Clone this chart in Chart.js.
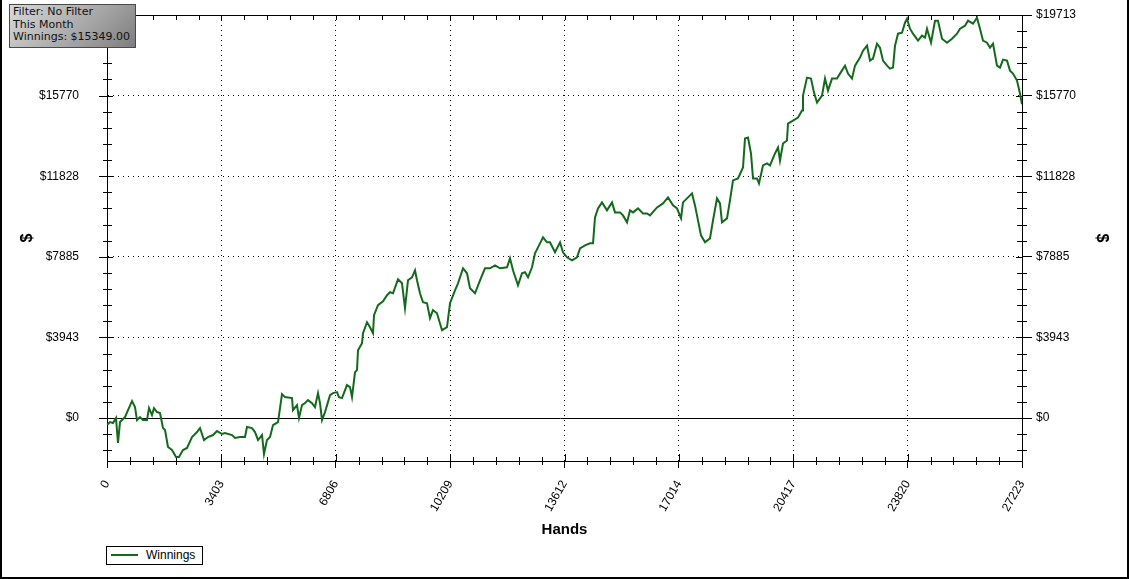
<!DOCTYPE html>
<html>
<head>
<meta charset="utf-8">
<script src="https://cdn.jsdelivr.net/npm/chart.js@4.4.1/dist/chart.umd.min.js"></script>
<style>
  body { margin: 0; background: #fff; }
  #wrap { position: relative; width: 1129px; height: 579px; overflow: hidden; background: #fff; }
  #chart { position: absolute; left: 0; top: 0; }
  #frame { position: absolute; left: 0; top: -2px; width: 1125px; height: 577px; border: 2px solid #000; pointer-events: none; }
  #filter {
    position: absolute; left: 9px; top: 4px; width: 122px; height: 41px;
    border: 1px solid #4a4a4a;
    background: linear-gradient(135deg, #d8d8d8 0%, #a9a9a9 55%, #7e7e7e 100%);
    font: 11px "DejaVu Sans", sans-serif; line-height: 12.6px; color: #111;
    padding: 1px 0 0 3px; box-sizing: content-box; white-space: nowrap;
  }
  #legend {
    position: absolute; left: 106px; top: 546px; width: 95px; height: 17px;
    border: 1px solid #000; background: #fff;
    font: 12px "Liberation Sans", Arial, sans-serif; color: #000;
  }
  #legend .swatch { position: absolute; left: 4px; top: 7px; width: 27px; height: 2px; background: #146a1c; }
  #legend .lbl { position: absolute; left: 39px; top: 1px; }
</style>
</head>
<body>
<div id="wrap">
  <canvas id="chart" width="1129" height="579"></canvas>
  <div id="filter">Filter: No Filter<br>This Month<br>Winnings: $15349.00</div>
  <div id="legend"><div class="swatch"></div><div class="lbl">Winnings</div></div>
  <div id="frame"></div>
</div>
<script>
// hand number and running winnings ($)
const hands = [0, 89, 179, 268, 327, 387, 536, 625, 744, 833, 893, 982, 1071, 1190, 1250, 1339, 1398, 1488, 1577, 1666,
  1726, 1815, 1934, 2053, 2142, 2261, 2380, 2529, 2678, 2767, 2886, 3005, 3154, 3273, 3421, 3511, 3719, 3808, 3957, 4106,
  4165, 4314, 4403, 4493, 4612, 4671, 4760, 4850, 4939, 5088, 5207, 5296, 5504, 5534, 5653, 5712, 5802, 5891, 5980, 6099,
  6188, 6278, 6337, 6397, 6486, 6635, 6724, 6843, 6902, 6992, 7140, 7230, 7289, 7379, 7438, 7468, 7587, 7617, 7736, 7825,
  7914, 7944, 8063, 8212, 8331, 8420, 8509, 8658, 8777, 8866, 8955, 9074, 9164, 9223, 9312, 9402, 9521, 9610, 9699, 9818,
  9967, 10116, 10205, 10354, 10443, 10592, 10711, 10800, 10949, 11098, 11246, 11395, 11544, 11693, 11901, 11990, 12079, 12228, 12347, 12436,
  12526, 12645, 12734, 12883, 12972, 13091, 13180, 13329, 13478, 13567, 13686, 13835, 13983, 14073, 14222, 14370, 14460, 14519, 14608, 14727,
  14876, 15025, 15114, 15263, 15352, 15471, 15560, 15650, 15798, 15947, 16066, 16155, 16364, 16542, 16691, 16840, 16959, 17078, 17137, 17256,
  17405, 17494, 17583, 17673, 17792, 17940, 18030, 18149, 18238, 18297, 18446, 18535, 18625, 18774, 18922, 18982, 19071, 19160, 19220, 19339,
  19398, 19517, 19636, 19726, 19874, 19964, 20023, 20112, 20231, 20261, 20410, 20559, 20678, 20707, 20826, 20945, 21035, 21124, 21273, 21362,
  21451, 21570, 21719, 21808, 21957, 22046, 22165, 22255, 22403, 22493, 22612, 22701, 22790, 22909, 22998, 23088, 23207, 23296, 23385, 23445,
  23534, 23653, 23742, 23802, 23891, 23980, 24129, 24248, 24337, 24397, 24516, 24635, 24724, 24843, 24992, 25140, 25289, 25379, 25527, 25616,
  25765, 25884, 25973, 26063, 26182, 26271, 26360, 26479, 26568, 26658, 26777, 26866, 26955, 27074, 27163, 27223];
const winnings = [-340, -195, -244, 0, -1221, -195, 49, 391, 830, 537, -98, 49, -98, -98, 488, 146, 488, 293, 244, -488,
  -586, -1416, -1563, -1904, -1904, -1563, -1465, -928, -684, -488, -1074, -928, -830, -635, -781, -732, -830, -977, -928, -928,
  -439, -488, -684, -1074, -830, -1758, -1074, -928, -342, -195, 1172, 1025, 977, 391, 635, 0, 635, 732, 879, 732,
  537, 1221, 732, -98, 293, 1123, 1221, 1270, 1025, 977, 1611, 1514, 1025, 2246, 2344, 3320, 3662, 4151, 4688, 4444,
  4151, 5029, 5518, 5713, 6006, 6153, 6104, 6787, 6592, 5371, 6739, 6885, 7227, 6739, 6104, 5664, 5615, 4883, 5274, 5127,
  4297, 4444, 5615, 6250, 6592, 7325, 7080, 6348, 6104, 6739, 7325, 7325, 7471, 7325, 7373, 7813, 7227, 6494, 7080, 7129,
  6885, 7373, 8057, 8545, 8838, 8594, 8594, 8106, 8594, 8106, 7862, 7715, 7862, 8301, 8448, 8545, 8545, 9815, 10254, 10547,
  10157, 10547, 10059, 10059, 9912, 9571, 10157, 10059, 10254, 10010, 10010, 9912, 10303, 10498, 10791, 10401, 10254, 9766, 10547, 10743,
  10987, 10401, 9668, 8936, 8594, 8789, 9668, 10743, 10498, 9571, 9766, 10645, 11622, 11719, 12256, 13672, 13721, 12940, 11719, 11719,
  11475, 12354, 12452, 12354, 12940, 13233, 12598, 13428, 13575, 14405, 14551, 14698, 15040, 15772, 16651, 16602, 15918, 15430, 15772, 16602,
  16016, 16602, 16602, 16846, 17237, 16846, 16602, 17237, 17628, 17969, 18214, 17481, 17579, 18311, 18116, 17481, 17237, 17091, 17139, 18214,
  18800, 18848, 19337, 19532, 19044, 18800, 18457, 18702, 18604, 19044, 18360, 19434, 19434, 18555, 18360, 18555, 18800, 19044, 19190, 19434,
  19288, 19581, 19044, 18457, 18360, 18116, 18311, 17237, 17139, 17530, 17481, 16993, 16846, 16505, 15870, 15349];

const xTicks = [0, 3402.875, 6805.75, 10208.625, 13611.5, 17014.375, 20417.25, 23820.125, 27223];
const yTicks = [0, 3942.6, 7885.2, 11827.8, 15770.4, 19713];
const xMin = 0, xMax = 27223, yMin = -2100, yMax = 19713;

const lineGreen = '#146a1c';
const tickFont = { family: '"Liberation Sans", Arial, sans-serif', size: 12 };
const titleFont = { family: '"Liberation Sans", Arial, sans-serif', size: 16, weight: 'bold' };

const points = hands.map((h, i) => ({ x: h, y: winnings[i] }));

// minor ticks, inner halves of major ticks, top border and the solid $0 line
const axisExtras = {
  id: 'axisExtras',
  beforeDatasetsDraw(chart) {
    const { ctx, chartArea: a, scales: { x, y } } = chart;
    const px = v => Math.round(v) + 0.5;
    ctx.save();
    ctx.strokeStyle = '#000';
    ctx.lineWidth = 1;
    ctx.setLineDash([]);
    ctx.beginPath();
    const y0 = px(y.getPixelForValue(0));
    ctx.moveTo(a.left - 8, y0); ctx.lineTo(a.right, y0);
    const top = px(a.top);
    ctx.moveTo(a.left, top); ctx.lineTo(a.right + 1, top);
    // x minor ticks
    const xStep = (xTicks[1] - xTicks[0]) / 5;
    for (let i = 0; i <= 40; i++) {
      const p = px(x.getPixelForValue(i * xStep));
      const major = i % 5 === 0;
      ctx.moveTo(p, a.bottom - (major ? 7 : 4)); ctx.lineTo(p, a.bottom + (major ? 0 : 4));
      ctx.moveTo(p, a.top); ctx.lineTo(p, a.top + 5);
    }
    // y minor ticks on both sides, plus the left outer major ticks
    const yStep = (yTicks[1] - yTicks[0]) / 5;
    for (let i = -2; i <= 25; i++) {
      const p = px(y.getPixelForValue(i * yStep));
      const major = i % 5 === 0;
      ctx.moveTo(a.left - (major ? 8 : 4), p); ctx.lineTo(a.left + (major ? 6 : 5), p);
      ctx.moveTo(a.right - (major ? 6 : 5), p); ctx.lineTo(a.right + (major ? 0 : 5), p);
    }
    ctx.stroke();
    ctx.restore();
  }
};

new Chart(document.getElementById('chart'), {
  type: 'line',
  data: {
    datasets: [{
      label: 'Winnings',
      data: points,
      borderColor: lineGreen,
      borderWidth: 2,
      pointRadius: 0,
      tension: 0,
      fill: false
    }]
  },
  options: {
    responsive: false,
    animation: false,
    layout: { padding: { top: 15, left: 0, right: 0, bottom: 0 } },
    plugins: { legend: { display: false }, tooltip: { enabled: false } },
    scales: {
      x: {
        type: 'linear', min: xMin, max: xMax,
        afterBuildTicks: s => { s.ticks = xTicks.map(v => ({ value: v })); },
        afterFit: s => { s.height = 118; },
        ticks: {
          autoSkip: false, minRotation: 60, maxRotation: 60, padding: 10,
          color: '#000', font: tickFont,
          callback: v => String(Math.round(v))
        },
        grid: { color: '#000', lineWidth: 1, tickLength: 7, tickColor: '#000' },
        border: { display: true, color: '#000', width: 1, dash: [1, 4] },
        title: { display: true, text: 'Hands', color: '#000',
          font: { family: '"Liberation Sans", Arial, sans-serif', size: 15, weight: 'bold' },
          padding: { top: 0, bottom: 40 } }
      },
      y: {
        type: 'linear', position: 'left', min: yMin, max: yMax,
        afterBuildTicks: s => { s.ticks = yTicks.map(v => ({ value: v })); },
        afterFit: s => { s.width = 107; },
        // tick padding would also pad the chart top, so the gap sits in an invisible tick
        ticks: { padding: 0, color: '#000', font: tickFont, callback: v => '$' + Math.round(v) },
        grid: { color: '#000', lineWidth: 1, tickLength: 28, tickColor: 'rgba(0,0,0,0)' },
        border: { display: true, color: '#000', width: 1, dash: [1, 4] },
        title: { display: true, text: '$', color: '#000', font: titleFont, padding: { top: 18, bottom: 0 } }
      },
      y1: {
        type: 'linear', position: 'right', min: yMin, max: yMax,
        afterBuildTicks: s => { s.ticks = yTicks.map(v => ({ value: v })); },
        afterFit: s => { s.width = 107; },
        ticks: { padding: 4, color: '#000', font: tickFont, callback: v => '$' + Math.round(v) },
        grid: { drawOnChartArea: false, color: '#000', tickLength: 10, tickColor: '#000' },
        border: { display: true, color: '#000', width: 1 },
        title: { display: true, text: '$', color: '#000', font: titleFont, padding: { top: 18, bottom: 0 } }
      }
    }
  },
  plugins: [axisExtras]
});
</script>
</body>
</html>
